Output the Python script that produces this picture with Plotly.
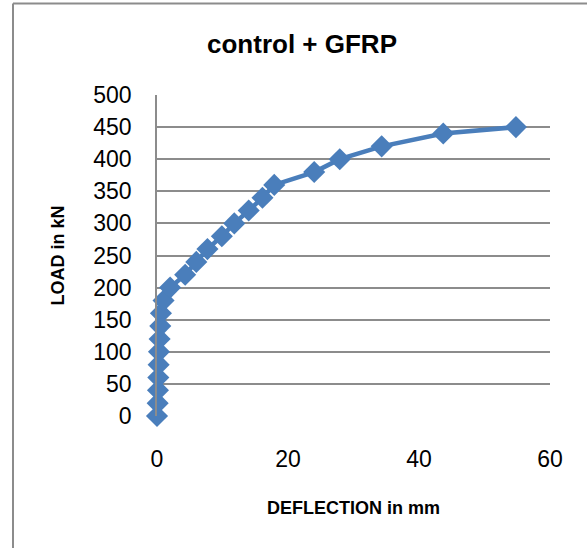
import plotly.graph_objects as go

# deflection (mm) and load (kN)
deflection = [0, 0.1, 0.15, 0.2, 0.25, 0.3, 0.4, 0.5, 0.6, 1.0, 2.0, 4.3, 6.0, 7.7,
              9.9, 11.8, 14.0, 16.1, 17.9, 24.0, 27.9, 34.3, 43.7, 54.8]
load = [0, 20, 40, 60, 80, 100, 120, 140, 160, 180, 200, 220, 240, 260,
        280, 300, 320, 340, 360, 380, 400, 420, 440, 450]

x_ticks = [0, 20, 40, 60]
y_ticks = [0, 50, 100, 150, 200, 250, 300, 350, 400, 450, 500]

blue = '#4A7EBB'
grid = '#8C8C8C'
font = 'Liberation Sans Narrow, Arial Narrow, Liberation Sans, Arial, sans-serif'

fig = go.Figure()

fig.add_trace(go.Scatter(
    x=deflection,
    y=load,
    mode='lines+markers',
    line=dict(color=blue, width=4.5),
    marker=dict(symbol='diamond', size=17, color=blue),
    cliponaxis=False,
    showlegend=False
))

fig.update_layout(
    width=587,
    height=548,
    paper_bgcolor='white',
    plot_bgcolor='white',
    margin=dict(l=157, r=37, t=95, b=132),
    title=dict(
        text='<b>control + GFRP</b>',
        x=302 / 587, xanchor='center', xref='container',
        y=1 - 44 / 548, yanchor='middle', yref='container',
        font=dict(family=font, size=26, color='black')
    ),
    xaxis=dict(
        range=[0, 60],
        tickvals=x_ticks,
        showgrid=False,
        zeroline=False,
        showline=False,
        ticks='',
        ticklabelstandoff=27,
        tickfont=dict(family=font, size=23, color='black'),
        title=dict(text='<b>DEFLECTION in mm</b>', standoff=30,
                   font=dict(family=font, size=18, color='black'))
    ),
    yaxis=dict(
        range=[0, 500],
        tickvals=y_ticks,
        showgrid=True,
        gridcolor=grid,
        gridwidth=1.5,
        zeroline=False,
        showline=True,
        linecolor=grid,
        linewidth=1.5,
        ticks='',
        ticklabelstandoff=19,
        tickfont=dict(family=font, size=23, color='black'),
        title=dict(text='<b>LOAD in kN</b>', standoff=24,
                   font=dict(family=font, size=18, color='black'))
    ),
    shapes=[
        # chart area border (left and top edges)
        dict(type='line', xref='paper', yref='paper',
             x0=(13 - 157) / 393, x1=(13 - 157) / 393,
             y0=(416 - 560) / 321, y1=(416 - 3.5) / 321,
             line=dict(color=grid, width=2)),
        dict(type='line', xref='paper', yref='paper',
             x0=(13 - 157) / 393, x1=(600 - 157) / 393,
             y0=(416 - 3.5) / 321, y1=(416 - 3.5) / 321,
             line=dict(color=grid, width=2)),
    ]
)

fig.write_html("out.html", config={'displayModeBar': False},
               post_script="document.body.style.margin='0';")
